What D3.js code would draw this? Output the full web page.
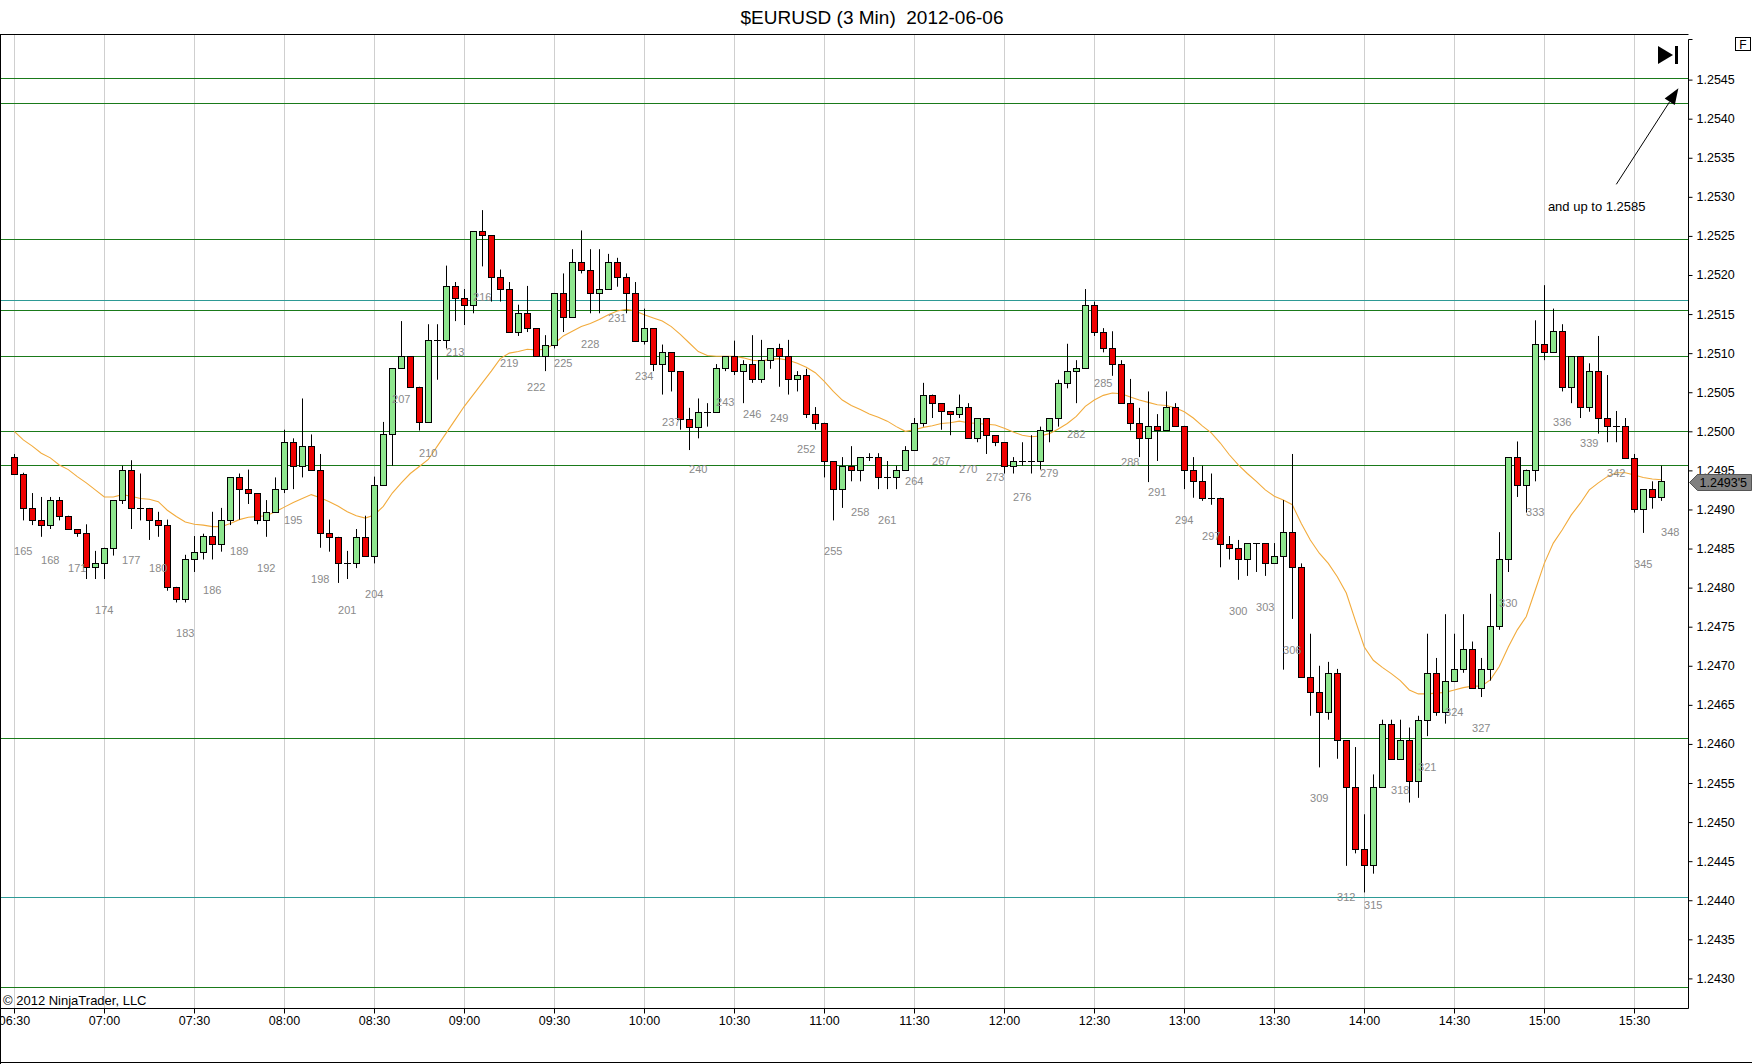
<!DOCTYPE html>
<html><head><meta charset="utf-8">
<script src="https://cdn.jsdelivr.net/npm/d3@7"></script>
<style>
body{margin:0;background:#fff}
svg{display:block}
text{font-family:"Liberation Sans",Arial,sans-serif}
</style>
</head><body>
<svg id="chart" width="1752" height="1064"></svg>
<script>
// ---------- DATA ----------
const title = "$EURUSD (3 Min)  2012-06-06";
const firstBar = 164;
const opens = [1.24967,1.24946,1.24902,1.24887,1.24880,1.24912,1.24892,1.24875,1.24870,1.24826,1.24831,1.24851,1.24912,1.24951,1.24902,1.24902,1.24887,1.24880,1.24801,1.24786,1.24836,1.24846,1.24866,1.24856,1.24887,1.24941,1.24926,1.24921,1.24887,1.24897,1.24926,1.24986,1.24956,1.24981,1.24951,1.24870,1.24865,1.24831,1.24831,1.24865,1.24841,1.24931,1.24996,1.25081,1.25096,1.25057,1.25012,1.25117,1.25117,1.25186,1.25171,1.25161,1.25256,1.25251,1.25197,1.25182,1.25127,1.25151,1.25132,1.25096,1.25111,1.25177,1.25146,1.25217,1.25207,1.25177,1.25182,1.25217,1.25197,1.25177,1.25116,1.25132,1.25086,1.25101,1.25077,1.25016,1.25006,1.25025,1.25025,1.25081,1.25096,1.25077,1.25086,1.25067,1.25091,1.25106,1.25096,1.25067,1.25072,1.25022,1.25011,1.24962,1.24926,1.24956,1.24951,1.24967,1.24967,1.24941,1.24941,1.24951,1.24976,1.25011,1.25047,1.25036,1.25026,1.25022,1.25031,1.24991,1.25017,1.24995,1.24986,1.24956,1.24962,1.24962,1.24962,1.25002,1.25017,1.25062,1.25077,1.25081,1.25162,1.25127,1.25106,1.25086,1.25036,1.25011,1.24991,1.25007,1.25002,1.25031,1.25007,1.24951,1.24936,1.24915,1.24915,1.24856,1.24851,1.24836,1.24857,1.24857,1.24831,1.24841,1.24871,1.24826,1.24686,1.24666,1.24641,1.24691,1.24605,1.24545,1.24466,1.24445,1.24545,1.24626,1.24581,1.24605,1.24553,1.24631,1.24691,1.24641,1.24681,1.24696,1.24721,1.24671,1.24696,1.24751,1.24836,1.24967,1.24931,1.24951,1.25112,1.25102,1.25128,1.25057,1.25096,1.25031,1.25077,1.25017,1.25007,1.25007,1.24966,1.24901,1.24926,1.24916];
const highs = [1.24971,1.24947,1.24921,1.24916,1.24916,1.24916,1.24892,1.24875,1.24881,1.24847,1.24851,1.24912,1.24956,1.24963,1.24946,1.24902,1.24897,1.24887,1.24801,1.24842,1.24866,1.24869,1.24897,1.24902,1.24941,1.24946,1.24951,1.24921,1.24912,1.24941,1.25002,1.24991,1.25042,1.24996,1.24971,1.24887,1.24865,1.24847,1.24875,1.24892,1.24942,1.25012,1.25081,1.25141,1.25096,1.25057,1.25137,1.25137,1.25212,1.25191,1.25182,1.25256,1.25283,1.25251,1.25207,1.25191,1.25162,1.25186,1.25132,1.25123,1.25177,1.25202,1.25233,1.25257,1.25233,1.25233,1.25227,1.25222,1.25202,1.25191,1.25157,1.25132,1.25111,1.25101,1.25077,1.25030,1.25042,1.25036,1.25086,1.25096,1.25116,1.25091,1.25123,1.25117,1.25106,1.25112,1.25117,1.25077,1.25080,1.25031,1.25011,1.24962,1.24967,1.24981,1.24967,1.24972,1.24972,1.24962,1.24956,1.24981,1.25017,1.25062,1.25047,1.25036,1.25026,1.25047,1.25036,1.25017,1.25017,1.24995,1.24986,1.24967,1.24986,1.24995,1.25006,1.25017,1.25066,1.25112,1.25091,1.25182,1.25166,1.25132,1.25128,1.25091,1.25067,1.25030,1.25051,1.25022,1.25051,1.25036,1.25007,1.24967,1.24956,1.24946,1.24915,1.24866,1.24861,1.24857,1.24857,1.24857,1.24857,1.24912,1.24971,1.24831,1.24741,1.24700,1.24705,1.24696,1.24605,1.24596,1.24510,1.24561,1.24631,1.24631,1.24631,1.24621,1.24636,1.24741,1.24710,1.24766,1.24741,1.24766,1.24731,1.24710,1.24792,1.24871,1.24967,1.24987,1.24951,1.25142,1.25187,1.25157,1.25137,1.25096,1.25096,1.25087,1.25122,1.25072,1.25026,1.25017,1.24971,1.24926,1.24936,1.24956];
const lows = [1.24946,1.24886,1.24880,1.24865,1.24875,1.24886,1.24875,1.24865,1.24811,1.24811,1.24811,1.24841,1.24907,1.24875,1.24886,1.24861,1.24865,1.24796,1.24781,1.24781,1.24820,1.24836,1.24836,1.24846,1.24880,1.24887,1.24907,1.24881,1.24865,1.24897,1.24921,1.24926,1.24941,1.24951,1.24851,1.24846,1.24806,1.24811,1.24825,1.24841,1.24831,1.24931,1.24956,1.25081,1.25057,1.25001,1.25012,1.25066,1.25106,1.25141,1.25136,1.25151,1.25211,1.25166,1.25166,1.25127,1.25122,1.25127,1.25096,1.25077,1.25106,1.25127,1.25146,1.25202,1.25151,1.25151,1.25182,1.25185,1.25151,1.25116,1.25111,1.25077,1.25047,1.25051,1.25002,1.24976,1.24991,1.25006,1.25025,1.25077,1.25072,1.25036,1.25062,1.25062,1.25080,1.25057,1.25047,1.25051,1.25017,1.25002,1.24941,1.24886,1.24902,1.24936,1.24936,1.24962,1.24926,1.24926,1.24926,1.24951,1.24976,1.25006,1.25017,1.25002,1.24995,1.25017,1.24991,1.24986,1.24971,1.24981,1.24946,1.24946,1.24956,1.24946,1.24951,1.24986,1.25006,1.25055,1.25036,1.25081,1.25122,1.25101,1.25071,1.25036,1.25001,1.24967,1.24935,1.24962,1.25001,1.25007,1.24926,1.24915,1.24911,1.24906,1.24826,1.24836,1.24810,1.24815,1.24820,1.24815,1.24831,1.24695,1.24760,1.24686,1.24636,1.24570,1.24631,1.24581,1.24444,1.24460,1.24410,1.24434,1.24545,1.24581,1.24581,1.24525,1.24531,1.24610,1.24636,1.24626,1.24681,1.24691,1.24671,1.24660,1.24681,1.24746,1.24820,1.24916,1.24896,1.24936,1.25091,1.25102,1.25051,1.25036,1.25017,1.25025,1.24997,1.24986,1.24986,1.24966,1.24896,1.24870,1.24901,1.24911];
const closes = [1.24946,1.24902,1.24886,1.24880,1.24912,1.24892,1.24875,1.24870,1.24826,1.24831,1.24851,1.24912,1.24951,1.24902,1.24902,1.24886,1.24880,1.24801,1.24786,1.24836,1.24846,1.24866,1.24856,1.24887,1.24941,1.24926,1.24921,1.24887,1.24897,1.24926,1.24986,1.24956,1.24981,1.24951,1.24870,1.24865,1.24831,1.24831,1.24865,1.24841,1.24931,1.24996,1.25081,1.25096,1.25057,1.25012,1.25117,1.25117,1.25186,1.25171,1.25161,1.25256,1.25251,1.25197,1.25182,1.25127,1.25151,1.25132,1.25096,1.25111,1.25177,1.25146,1.25217,1.25207,1.25177,1.25182,1.25217,1.25197,1.25177,1.25116,1.25132,1.25086,1.25101,1.25077,1.25016,1.25006,1.25025,1.25025,1.25081,1.25096,1.25077,1.25086,1.25067,1.25091,1.25106,1.25096,1.25067,1.25072,1.25022,1.25011,1.24962,1.24926,1.24956,1.24951,1.24967,1.24967,1.24941,1.24941,1.24951,1.24976,1.25011,1.25047,1.25036,1.25026,1.25022,1.25031,1.24991,1.25017,1.24995,1.24986,1.24956,1.24962,1.24962,1.24962,1.25002,1.25017,1.25062,1.25077,1.25081,1.25162,1.25127,1.25106,1.25086,1.25036,1.25011,1.24991,1.25007,1.25002,1.25031,1.25007,1.24951,1.24936,1.24915,1.24915,1.24856,1.24851,1.24836,1.24857,1.24857,1.24831,1.24841,1.24871,1.24826,1.24686,1.24666,1.24641,1.24691,1.24605,1.24545,1.24466,1.24445,1.24545,1.24626,1.24581,1.24605,1.24553,1.24631,1.24691,1.24641,1.24681,1.24696,1.24721,1.24671,1.24696,1.24751,1.24836,1.24967,1.24931,1.24951,1.25112,1.25102,1.25128,1.25057,1.25096,1.25031,1.25077,1.25017,1.25007,1.25007,1.24966,1.24901,1.24926,1.24916,1.24936];
const movingAverage = [1.25000,1.24989,1.24981,1.24972,1.24966,1.24957,1.24951,1.24942,1.24934,1.24925,1.24916,1.24916,1.24919,1.24917,1.24914,1.24913,1.24910,1.24899,1.24891,1.24884,1.24881,1.24880,1.24878,1.24878,1.24882,1.24887,1.24890,1.24891,1.24892,1.24897,1.24903,1.24909,1.24914,1.24919,1.24915,1.24910,1.24904,1.24897,1.24892,1.24889,1.24893,1.24904,1.24921,1.24934,1.24946,1.24955,1.24964,1.24981,1.24998,1.25015,1.25032,1.25047,1.25062,1.25077,1.25093,1.25100,1.25102,1.25105,1.25104,1.25105,1.25112,1.25122,1.25128,1.25134,1.25138,1.25143,1.25149,1.25154,1.25156,1.25154,1.25149,1.25145,1.25141,1.25134,1.25124,1.25113,1.25102,1.25097,1.25096,1.25096,1.25096,1.25094,1.25091,1.25090,1.25092,1.25093,1.25091,1.25087,1.25082,1.25075,1.25064,1.25051,1.25040,1.25033,1.25028,1.25022,1.25018,1.25013,1.25006,1.25000,1.25002,1.25005,1.25007,1.25010,1.25011,1.25013,1.25011,1.25010,1.25009,1.25008,1.25004,1.24999,1.24995,1.24993,1.24994,1.24997,1.25003,1.25010,1.25019,1.25032,1.25040,1.25046,1.25049,1.25048,1.25044,1.25040,1.25037,1.25034,1.25033,1.25030,1.25025,1.25017,1.25007,1.24998,1.24985,1.24970,1.24957,1.24946,1.24936,1.24925,1.24917,1.24912,1.24906,1.24882,1.24861,1.24844,1.24831,1.24814,1.24793,1.24758,1.24724,1.24707,1.24698,1.24690,1.24681,1.24669,1.24664,1.24664,1.24665,1.24666,1.24669,1.24672,1.24674,1.24674,1.24682,1.24699,1.24724,1.24746,1.24763,1.24797,1.24831,1.24857,1.24874,1.24893,1.24908,1.24925,1.24934,1.24942,1.24947,1.24947,1.24944,1.24941,1.24939,1.24938];
const timeLabels = ["06:30","07:00","07:30","08:00","08:30","09:00","09:30","10:00","10:30","11:00","11:30","12:00","12:30","13:00","13:30","14:00","14:30","15:00","15:30"];
const timeLabelBars = [164,174,184,194,204,214,224,234,244,254,264,274,284,294,304,314,324,334,344];
const barNumberLabels = [165,168,171,174,177,180,183,186,189,192,195,198,201,204,207,210,213,216,219,222,225,228,231,234,237,240,243,246,249,252,255,258,261,264,267,270,273,276,279,282,285,288,291,294,297,300,303,306,309,312,315,318,321,324,327,330,333,336,339,342,345,348];
const priceTicks = [1.2545,1.2540,1.2535,1.2530,1.2525,1.2520,1.2515,1.2510,1.2505,1.2500,1.2495,1.2490,1.2485,1.2480,1.2475,1.2470,1.2465,1.2460,1.2455,1.2450,1.2445,1.2440,1.2435,1.2430];
const greenLevels = [1.25452,1.25420,1.25246,1.25155,1.25096,1.25001,1.24957,1.24607,1.24289];
const tealLevels = [1.25168,1.24404];
const lastPriceLabel = "1.2493'5";
const lastPrice = 1.24935;
const annotation = {text:"and up to 1.2585", textBar:334.4, textPrice:1.25282, fromBar:342.0, fromPrice:1.25316, toBar:348.9, toPrice:1.25439};

// ---------- LAYOUT ----------
const W = 1752, H = 1064;
const plot = {left:0.5, top:34.5, right:1688.5, bottom:1008.5};
const svg = d3.select("#chart");
const x = d3.scaleLinear().domain([164, 348]).range([14.3, 1670.3]);
const y = d3.scaleLinear().domain([1.2430, 1.2545]).range([978.4, 79.6]);
const bars = closes.map((c,i)=>({bar:firstBar+i, o:opens[i], h:highs[i], l:lows[i], c:c, ma:movingAverage[i]}));

svg.append("rect").attr("width",W).attr("height",H).attr("fill","#fff");
svg.append("defs").append("clipPath").attr("id","clip")
  .append("rect").attr("x",plot.left).attr("y",plot.top).attr("width",plot.right-plot.left).attr("height",plot.bottom-plot.top);

// title
svg.append("text").attr("x",872).attr("y",24).attr("text-anchor","middle")
  .style("white-space","pre").attr("font-size",19).attr("fill","#000").text(title);

const g = svg.append("g").attr("clip-path","url(#clip)");

// vertical grid
g.selectAll("line.vg").data(timeLabelBars).join("line")
  .attr("x1",d=>Math.round(x(d))+0.5).attr("x2",d=>Math.round(x(d))+0.5)
  .attr("y1",plot.top).attr("y2",plot.bottom).attr("stroke","#cfcfcf").attr("stroke-width",1);

// horizontal levels
g.selectAll("line.gl").data(greenLevels).join("line")
  .attr("x1",plot.left).attr("x2",plot.right)
  .attr("y1",d=>Math.round(y(d))+0.5).attr("y2",d=>Math.round(y(d))+0.5)
  .attr("stroke","#1a7a1a").attr("stroke-width",1);
g.selectAll("line.tl").data(tealLevels).join("line")
  .attr("x1",plot.left).attr("x2",plot.right)
  .attr("y1",d=>Math.round(y(d))+0.5).attr("y2",d=>Math.round(y(d))+0.5)
  .attr("stroke","#2e9a96").attr("stroke-width",1);

// moving average
g.append("path").datum(bars)
  .attr("d",d3.line().x(d=>x(d.bar)).y(d=>y(d.ma)))
  .attr("fill","none").attr("stroke","#f2ab3c").attr("stroke-width",1.1);

// candles
const cx = d=>Math.round(x(d.bar))+0.5;
const cg = g.append("g");
cg.selectAll("line.wick").data(bars).join("line")
  .attr("x1",cx).attr("x2",cx)
  .attr("y1",d=>y(d.h)).attr("y2",d=>y(d.l))
  .attr("stroke","#000").attr("stroke-width",1);
const bodies = bars.filter(d=>Math.abs(y(d.o)-y(d.c))>=1);
const dojis = bars.filter(d=>Math.abs(y(d.o)-y(d.c))<1);
cg.selectAll("rect.body").data(bodies).join("rect")
  .attr("x",d=>cx(d)-3).attr("width",6)
  .attr("y",d=>Math.round(y(Math.max(d.o,d.c)))+0.5)
  .attr("height",d=>Math.max(1,Math.round(y(Math.min(d.o,d.c)))-Math.round(y(Math.max(d.o,d.c)))))
  .attr("fill",d=>d.c>=d.o?"#8ee68e":"#ee0000")
  .attr("stroke","#000").attr("stroke-width",1);
cg.selectAll("line.doji").data(dojis).join("line")
  .attr("x1",d=>cx(d)-3.5).attr("x2",d=>cx(d)+3.5)
  .attr("y1",d=>Math.round(y(d.c))+0.5).attr("y2",d=>Math.round(y(d.c))+0.5)
  .attr("stroke","#000").attr("stroke-width",1);

// bar numbers
const lowOf = b => lows[Math.min(b-firstBar, lows.length-1)];
g.selectAll("text.bn").data(barNumberLabels).join("text")
  .attr("x",d=>x(d)).attr("y",d=>y(lowOf(d))+35)
  .attr("text-anchor","middle").attr("font-size",11).attr("fill","#8a8a8a").text(d=>d);

// copyright
svg.append("text").attr("x",3).attr("y",1005).attr("font-size",13).attr("fill","#000").text("\u00a9 2012 NinjaTrader, LLC");

// frame
svg.append("line").attr("x1",0).attr("x2",plot.right).attr("y1",plot.top).attr("y2",plot.top).attr("stroke","#000");
svg.append("line").attr("x1",0).attr("x2",plot.right).attr("y1",plot.bottom).attr("y2",plot.bottom).attr("stroke","#000");
svg.append("line").attr("x1",0.5).attr("x2",0.5).attr("y1",plot.top).attr("y2",H).attr("stroke","#000");
svg.append("line").attr("x1",0).attr("x2",W).attr("y1",H-1.5).attr("y2",H-1.5).attr("stroke","#000");

// y axis
const yAxis = svg.append("g").attr("transform",`translate(${plot.right},0)`)
  .call(d3.axisRight(y).tickValues(priceTicks).tickFormat(d3.format(".4f")).tickSize(4).tickPadding(4));
yAxis.select(".domain").remove();
yAxis.selectAll("text").attr("font-size",12.5).attr("fill","#000").style("font-family",'"Liberation Sans",Arial,sans-serif');
yAxis.selectAll(".tick line").attr("stroke","#000");
svg.append("path").attr("d",`M${plot.right+4},39.5H${plot.right}V${plot.bottom}`).attr("fill","none").attr("stroke","#000");

// x axis
const xAxis = svg.append("g").attr("transform",`translate(0,${plot.bottom})`)
  .call(d3.axisBottom(x).tickValues(timeLabelBars).tickFormat((d,i)=>timeLabels[i]).tickSize(5).tickPadding(3));
xAxis.select(".domain").remove();
xAxis.selectAll(".tick").attr("transform",d=>`translate(${Math.round(x(d))+0.5},0)`);
xAxis.selectAll("text").attr("font-size",12.5).attr("fill","#000").style("font-family",'"Liberation Sans",Arial,sans-serif');
xAxis.selectAll(".tick line").attr("stroke","#000");

// last price marker
const ly = Math.round(y(lastPrice))+0.5;
svg.append("path").attr("d",`M${plot.right+1},${ly}L${plot.right+9},${ly-8}H${W-0.5}V${ly+8}H${plot.right+9}Z`)
  .attr("fill","#808080").attr("stroke","#555");
svg.append("text").attr("x",plot.right+11).attr("y",ly+4.5).attr("font-size",12.5).attr("fill","#000").text(lastPriceLabel);

// F box
svg.append("rect").attr("x",1735.5).attr("y",37.5).attr("width",15).attr("height",13).attr("fill","#fff").attr("stroke","#000");
svg.append("text").attr("x",1743).attr("y",48.5).attr("text-anchor","middle").attr("font-size",12).text("F");

// go-to-end icon
svg.append("path").attr("d","M1658,46L1673,55L1658,64Z").attr("fill","#000");
svg.append("rect").attr("x",1675).attr("y",46).attr("width",3).attr("height",18).attr("fill","#000");

// annotation arrow + text
const ax1 = x(annotation.fromBar), ay1 = y(annotation.fromPrice);
const ax2 = x(annotation.toBar), ay2 = y(annotation.toPrice);
const dx = ax2-ax1, dy = ay2-ay1, len = Math.hypot(dx,dy), ux = dx/len, uy = dy/len;
const bx = ax2-16*ux, by = ay2-16*uy;
svg.append("line").attr("x1",ax1).attr("y1",ay1).attr("x2",bx).attr("y2",by).attr("stroke","#000").attr("stroke-width",1);
svg.append("path").attr("d",`M${ax2},${ay2}L${bx-6*uy},${by+6*ux}L${bx+6*uy},${by-6*ux}Z`).attr("fill","#000");
svg.append("text").attr("x",x(annotation.textBar)).attr("y",y(annotation.textPrice)).attr("font-size",13).attr("fill","#000").text(annotation.text);
</script>
</body></html>
